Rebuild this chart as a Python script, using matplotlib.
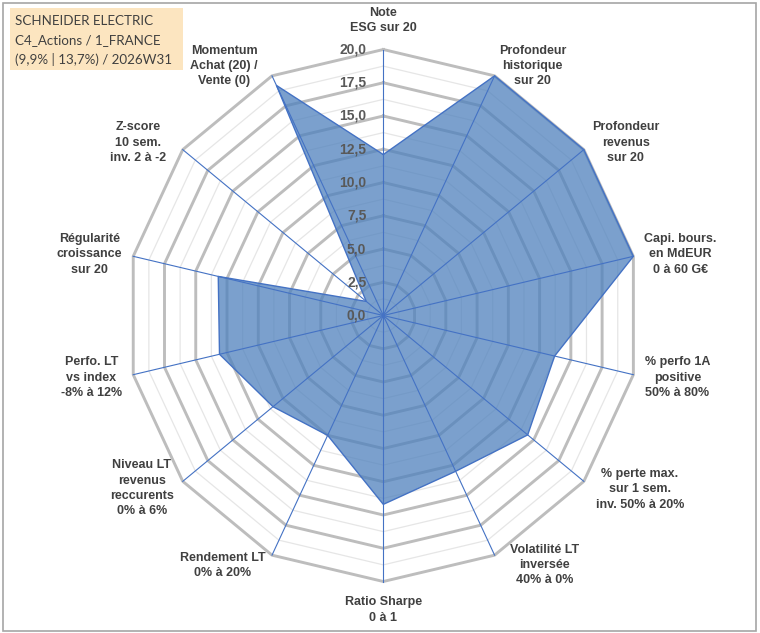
import numpy as np
import matplotlib
matplotlib.use("Agg")
import matplotlib.pyplot as plt
from matplotlib.patches import Rectangle

# ---- data ----
categories = [
    "Note\nESG sur 20",
    "Profondeur\nhistorique\nsur 20",
    "Profondeur\nrevenus\nsur 20",
    "Capi. bours.\nen MdEUR\n0 à 60 G€",
    "% perfo 1A\npositive\n50% à 80%",
    "% perte max.\nsur 1 sem.\ninv. 50% à 20%",
    "Volatilité LT\ninversée\n40% à 0%",
    "Ratio Sharpe\n0 à 1",
    "Rendement LT\n0% à 20%",
    "Niveau LT\nrevenus\nreccurents\n0% à 6%",
    "Perfo. LT\nvs index\n-8% à 12%",
    "Régularité\ncroissance\nsur 20",
    "Z-score\n10 sem.\ninv. 2 à -2",
    "Momentum\nAchat (20) /\nVente (0)",
]
values = [12.1, 20.0, 20.0, 20.0, 13.7, 14.4, 13.0, 14.2, 10.0, 11.0, 13.1, 13.2, 1.7, 19.2]
radial_ticks = [0.0, 2.5, 5.0, 7.5, 10.0, 12.5, 15.0, 17.5, 20.0]
minor_ticks = [1.25, 3.75, 6.25, 8.75, 11.25, 13.75, 16.25, 18.75]
title_lines = ["SCHNEIDER ELECTRIC", "C4_Actions / 1_FRANCE", "(9,9% | 13,7%) / 2026W31"]

# label offsets in pixels (style only)
label_offsets = [(0, 29), (38, 10), (42, 7), (47, 2), (44, -3), (56, -8), (50, -10),
                 (0, -28.5), (-49, -10), (-41, -7), (-42, -3), (-44, 2), (-45, 7), (-48, 10)]

W, H = 760, 633
fig = plt.figure(figsize=(W / 100, H / 100), dpi=100)
fig.patch.set_facecolor("white")

cx, cy, Rx, Ry = 383.3, 315.5, 256.5, 266.0
ax = fig.add_axes([(cx - Rx) / W, (H - cy - Ry) / H, 2 * Rx / W, 2 * Ry / H], projection="polar")
ax.set_aspect("auto")
ax.set_theta_zero_location("N")
ax.set_theta_direction(-1)
ax.set_ylim(0, 20)
ax.grid(False)
ax.set_xticks([])
ax.set_yticks([])
ax.spines["polar"].set_visible(False)
ax.patch.set_visible(False)

n = len(categories)
angles = np.linspace(0, 2 * np.pi, n, endpoint=False)
ang_c = np.concatenate([angles, angles[:1]])

for r in minor_ticks:
    ax.plot(ang_c, [r] * (n + 1), color="#E6E6E6", lw=0.9, zorder=1, clip_on=False)
for r in radial_ticks[1:]:
    ax.plot(ang_c, [r] * (n + 1), color="#BDBDBD", lw=2.1, zorder=1.1, clip_on=False)

vals_c = values + values[:1]
ax.fill(ang_c, vals_c, color="#4F81BD", alpha=0.75, lw=0, zorder=2)
for a in angles:
    ax.plot([a, a], [0, 20], color="#4472C4", lw=0.8, zorder=3, clip_on=False)
ax.plot(ang_c, vals_c, color="#4472C4", lw=1.0, zorder=4, clip_on=False)

for r in radial_ticks:
    ax.annotate(f"{r:.1f}".replace(".", ","), xy=(0, r), xytext=(-17, 0),
                textcoords="offset pixels", ha="right", va="center",
                fontsize=10, fontweight="bold", color="#595959",
                family="Liberation Sans", zorder=6, annotation_clip=False)

for a, lab, off in zip(angles, categories, label_offsets):
    ax.annotate(lab, xy=(a, 20), xytext=off, textcoords="offset pixels",
                ha="center", va="center", fontsize=9.0, fontweight="bold",
                color="#404040", family="Liberation Sans", linespacing=1.36,
                annotation_clip=False)

# title box
fig.patches.append(Rectangle((10 / W, 1 - 70 / H), 173 / W, 62 / H, transform=fig.transFigure,
                             facecolor="#FCE5C0", edgecolor="none", zorder=0))
for i, t in enumerate(title_lines):
    fig.text(15 / W, 1 - (21 + 19.5 * i) / H, t, ha="left", va="center",
             fontsize=9.6, color="#404040", family="Lato")

# outer border
fig.patches.append(Rectangle((3 / W, 2 / H), 753 / W, 628 / H, transform=fig.transFigure,
                             facecolor="none", edgecolor="#A6A6A6", lw=1.2))

fig.savefig("out.png", dpi=100)
